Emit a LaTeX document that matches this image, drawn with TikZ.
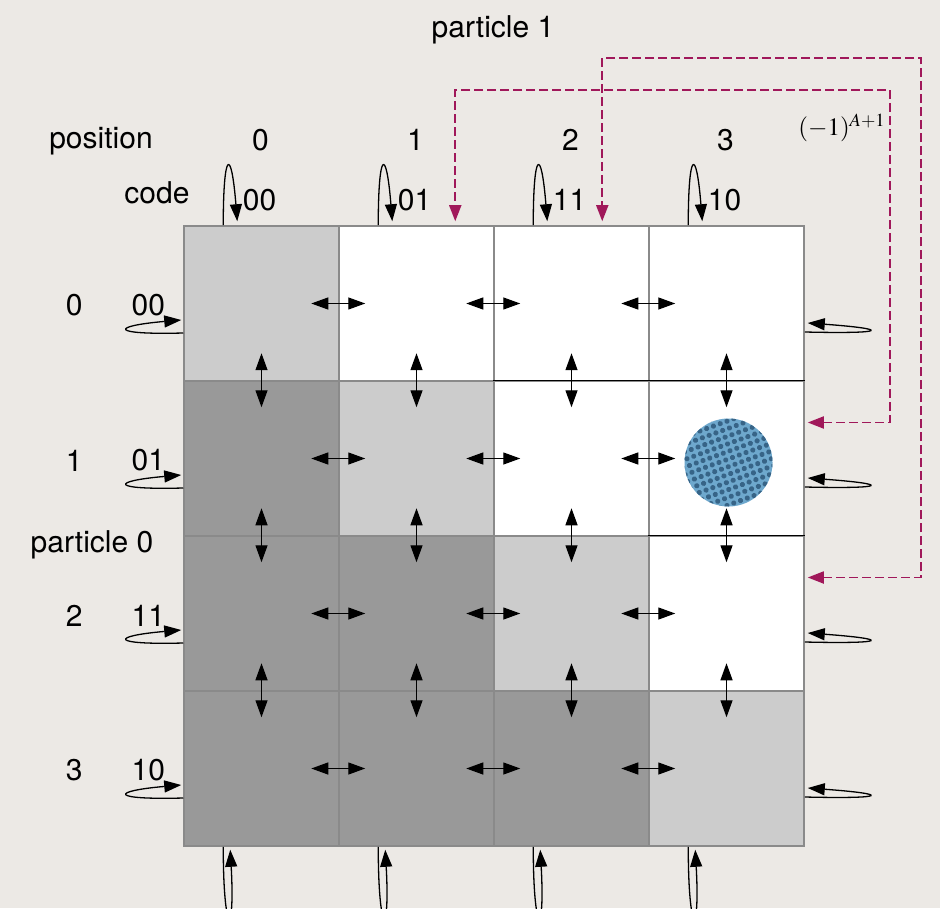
\documentclass[tikz,border=0pt]{standalone}
\usepackage{amsmath}
\usepackage{mathptmx}
\usepackage{fontspec}
\setmainfont{TeX Gyre Heros}
\usepackage{xcolor}
\usetikzlibrary{arrows.meta, calc, patterns.meta}
\definecolor{paper}{RGB}{236,233,229}
\definecolor{lightcell}{RGB}{204,204,204}
\definecolor{darkcell}{RGB}{153,153,153}
\definecolor{gridline}{RGB}{138,138,138}
\definecolor{flipcol}{RGB}{160,24,90}
\definecolor{ballblue}{RGB}{110,168,205}
\definecolor{balldot}{RGB}{55,100,135}

\begin{document}
\begin{tikzpicture}[x=0.5pt, y=-0.5pt,
  cell/.style={draw=gridline, line width=0.75pt, minimum size=77.5pt, inner sep=0pt},
  lab/.style={font=\fontsize{15}{18}\selectfont, inner sep=0pt},
  hop/.style={{Triangle[length=8.5pt, width=6pt]}-{Triangle[length=8.5pt, width=6pt]}, line width=0.65pt},
  wrap/.style={-{Triangle[length=8.5pt, width=6pt]}, line width=0.65pt},
  flip/.style={{Triangle[length=8pt, width=6pt]}-{Triangle[length=8pt, width=6pt]}, flipcol, dash pattern=on 4.5pt off 2pt, line width=0.9pt},
  ball/.style={circle, minimum size=44pt, inner sep=0pt, preaction={fill=ballblue},
    pattern={Dots[radius=1.3pt, distance=3.6pt, angle=20]}, pattern color=balldot}
]
  \useasboundingbox (0,0) rectangle (940,908);
  \fill[paper] (0,0) rectangle (940,908);
  % lattice
  \foreach \r in {0,...,3}{
    \foreach \c in {0,...,3}{
      \ifnum\c>\r \def\fillc{white}\else\ifnum\c=\r \def\fillc{lightcell}\else \def\fillc{darkcell}\fi\fi
      \node[cell, fill=\fillc] (c\r\c) at ({261.5+155*\c},{303.5+155*\r}) {};
    }
  }
  \draw[line width=0.75pt] (c12.north west) -- (c13.north east);
  \draw[line width=0.75pt] (c23.north west) -- (c23.north east);
  % hopping
  \foreach \r in {0,...,3}
    \foreach \c in {1,2,3}
      \draw[hop] ($(c\r\c.west)+(-27,0)$) -- ($(c\r\c.west)+(27,0)$);
  \foreach \r in {1,2,3}
    \foreach \c in {0,...,3}
      \draw[hop] ($(c\r\c.north)+(0,-27)$) -- ($(c\r\c.north)+(0,27)$);
  \node[ball] (ball) at ($(c13.center)+(2,4)$) {};
  % periodic boundaries
  \foreach \c/\code in {0/00,1/01,2/11,3/10}{
    \node[lab] (pos\c) at ($(c0\c.north)+(-1,-85)$) {\c};
    \node[lab] (topcode\c) at ($(c0\c.north)+(-2,-25)$) {\code};
    \draw[wrap] ($(c0\c.north west)+(40,0)$) .. controls +(0,-75) and +(-6,-75) .. ($(c0\c.north west)+(54,-4)$);
    \draw[wrap] ($(c3\c.south west)+(40,0)$) .. controls +(0,90) and +(5,90) .. ($(c3\c.south west)+(47,3)$);
  }
  \foreach \r/\code in {0/00,1/01,2/11,3/10}{
    \node[lab] (row\r) at ($(c\r0.west)+(-109,2)$) {\r};
    \node[lab] (leftcode\r) at ($(c\r0.west)+(-35,2)$) {\code};
    \draw[wrap] ($(c\r0.west)+(0,29.5)$) .. controls +(-75,2) and +(-70,6) .. ($(c\r0.west)+(-2,16.5)$);
    \draw[wrap] ($(c\r3.east)+(0,28.5)$) .. controls +(85,2) and +(82,6) .. ($(c\r3.east)+(3,19.5)$);
  }
  % sign flips
  \coordinate (inA) at ($(c13.east)+(3,-36)$);
  \coordinate (topA) at ($(c01.north west)+(117,-4)$);
  \draw[flip] (inA) -| (890,90) -| (topA);
  \coordinate (inB) at ($(c23.east)+(3,-36)$);
  \coordinate (topB) at ($(c02.north west)+(109,-4)$);
  \draw[flip] (inB) -| (921,58) -| (topB);
  \node[font=\fontsize{12.5}{14}\selectfont, inner sep=0pt] (sign) at (842,128) {$(-1)^{A+1}$};
  % titles
  \node[lab] (title1) at (493,30) {particle 1};
  \node[lab] (title0) at (92,545) {particle 0};
  \node[lab] (postitle) at (101,141) {position};
  \node[lab] (codetitle) at (157,193) {code};
\end{tikzpicture}
\end{document}
